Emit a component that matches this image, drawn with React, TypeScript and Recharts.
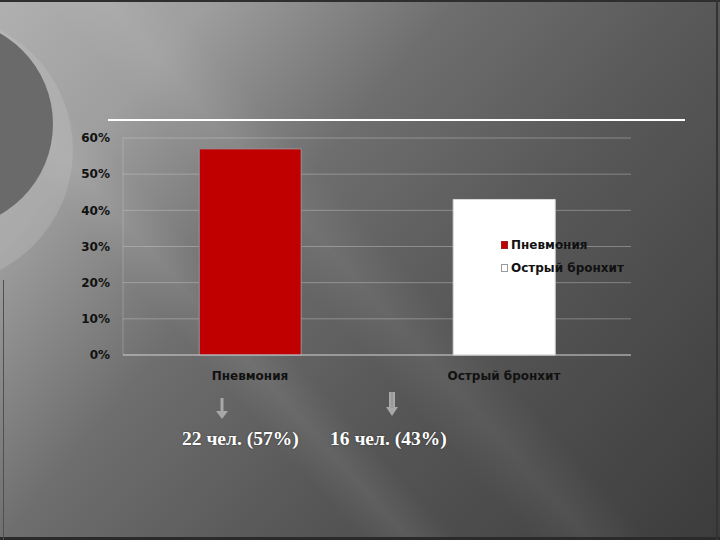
import React from 'react';
import { BarChart, Bar, XAxis, YAxis, CartesianGrid, Legend } from 'recharts';

const categories = ['Пневмония', 'Острый бронхит'];
const seriesNames = ['Пневмония', 'Острый бронхит'];
const shares = [0.57, 0.43];
const yTicks = [0, 0.1, 0.2, 0.3, 0.4, 0.5, 0.6];
const annotations = ['22 чел. (57%)', '16 чел. (43%)'];
const colors = ['#c00000', '#ffffff'];

const data = categories.map((c, i) => ({
  name: c,
  s0: i === 0 ? shares[0] : null,
  s1: i === 1 ? shares[1] : null,
}));

const FONT = '"DejaVu Sans", sans-serif';

const renderLegend = (props: any) => {
  const payload = [...(props.payload || [])].sort(
    (a: any, b: any) => seriesNames.indexOf(a.value) - seriesNames.indexOf(b.value)
  );
  return (
    <div style={{ fontFamily: FONT, fontSize: 12, fontWeight: 'bold', color: '#111' }}>
      {payload.map((e: any, i: number) => (
        <div key={i} style={{ display: 'flex', alignItems: 'center', height: 23 }}>
          <span
            style={{
              display: 'inline-block',
              width: 7,
              height: 8,
              background: e.color,
              border: e.value === seriesNames[1] ? '1px solid #9a9a9a' : '1px solid #a02020',
              boxSizing: 'border-box',
              marginRight: 3,
            }}
          />
          <span>{e.value}</span>
        </div>
      ))}
    </div>
  );
};

export default function App() {
  return (
    <div
      style={{
        position: 'fixed',
        left: 0,
        top: 0,
        width: 720,
        height: 540,
        overflow: 'hidden',
        background:
          'linear-gradient(130deg, #b0b0b0 0%, #9e9e9e 18%, #6e6e6e 39%, #585858 61%, #3c3c3c 100%)',
      }}
    >
      {/* diagonal streaks */}
      <div
        style={{
          position: 'absolute',
          inset: 0,
          background:
            'linear-gradient(48deg, rgba(255,255,255,0) 0%, rgba(255,255,255,0) 30%, rgba(255,255,255,0.07) 34%, rgba(255,255,255,0) 38%, rgba(255,255,255,0) 44%, rgba(255,255,255,0.06) 49%, rgba(255,255,255,0) 54%, rgba(255,255,255,0) 100%)',
        }}
      />
      {/* decorative circles */}
      <div
        style={{
          position: 'absolute',
          left: -197,
          top: 15,
          width: 270,
          height: 270,
          borderRadius: '50%',
          background: 'rgba(200,200,200,0.28)',
        }}
      />
      <div
        style={{
          position: 'absolute',
          left: -155,
          top: 20,
          width: 208,
          height: 208,
          borderRadius: '50%',
          background: '#6a6a6a',
        }}
      />
      {/* frame lines */}
      <div style={{ position: 'absolute', left: 0, top: 0, width: 720, height: 2, background: '#2e2e2e' }} />
      <div style={{ position: 'absolute', left: 0, top: 537, width: 720, height: 3, background: '#2a2a2a' }} />
      <div style={{ position: 'absolute', left: 716, top: 0, width: 2, height: 540, background: '#333' }} />
      <div style={{ position: 'absolute', left: 3, top: 280, width: 1, height: 260, background: '#505050' }} />
      {/* title line */}
      <div style={{ position: 'absolute', left: 108, top: 119, width: 577, height: 2, background: '#ffffff' }} />

      <div style={{ position: 'absolute', left: 0, top: 0 }}>
        <BarChart
          width={720}
          height={540}
          data={data}
          margin={{ top: 138, right: 89, bottom: 155, left: 60 }}
          barCategoryGap="30%"
        >
          <CartesianGrid vertical={false} stroke="rgba(205,205,205,0.42)" strokeWidth={1} />
          <XAxis
            dataKey="name"
            height={30}
            tickLine={false}
            axisLine={{ stroke: 'rgba(215,215,215,0.75)' }}
            tickMargin={10}
            tick={{ fill: '#111', fontSize: 12, fontWeight: 'bold', fontFamily: FONT }}
          />
          <YAxis
            width={63}
            domain={[0, 0.6]}
            ticks={yTicks}
            interval={0}
            tickFormatter={(v: number) => `${Math.round(v * 100)}%`}
            axisLine={{ stroke: 'rgba(200,200,200,0.35)' }}
            tickLine={false}
            tickSize={0}
            tickMargin={13}
            tick={{ fill: '#111', fontSize: 12, fontWeight: 'bold', fontFamily: FONT }}
          />
          <Legend
            layout="vertical"
            align="center"
            verticalAlign="middle"
            content={renderLegend}
            wrapperStyle={{ left: 501, top: 233, width: 150 }}
          />
          <Bar dataKey="s0" name={seriesNames[0]} stackId="a" fill={colors[0]} stroke="#8d9aa0" strokeWidth={1} isAnimationActive={false} />
          <Bar dataKey="s1" name={seriesNames[1]} stackId="a" fill={colors[1]} stroke="#d8d8d8" strokeWidth={1} isAnimationActive={false} />
        </BarChart>
      </div>

      {/* arrows */}
      <svg style={{ position: 'absolute', left: 0, top: 0 }} width={720} height={540}>
        <g fill="#a8a8a8">
          <rect x={220.5} y={398} width={3} height={14} />
          <polygon points="216,411 228,411 222,419" />
          <rect x={389} y={392} width={6} height={16} />
          <polygon points="386,407 398,407 392,416" />
        </g>
        <g stroke="#8a8a8a" strokeWidth={1}>
          <line x1={392} y1={392} x2={392} y2={408} />
        </g>
      </svg>

      {/* annotations */}
      {annotations.map((t, i) => (
        <div
          key={i}
          style={{
            position: 'absolute',
            left: i === 0 ? 182 : 330,
            top: 428,
            fontFamily: '"Liberation Serif", "Times New Roman", serif',
            fontWeight: 'bold',
            fontSize: 19.5,
            color: '#ffffff',
            whiteSpace: 'nowrap',
            textShadow: '0 0 2px rgba(0,0,0,0.5)',
          }}
        >
          {t}
        </div>
      ))}
    </div>
  );
}
